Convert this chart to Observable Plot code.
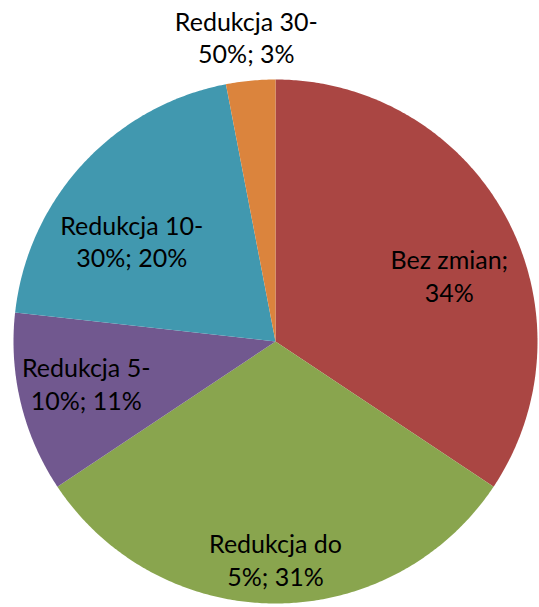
<!DOCTYPE html>
<html>
<head>
<meta charset="utf-8">
<script src="https://cdn.jsdelivr.net/npm/d3@7"></script>
<script src="https://cdn.jsdelivr.net/npm/@observablehq/plot@0.6"></script>
<style>
  html, body { margin: 0; padding: 0; background: #fff; }
  #chart { width: 539px; height: 607px; }
</style>
</head>
<body>
<div id="chart"></div>
<script>
// Data
const categories = ["Bez zmian", "Redukcja do 5%", "Redukcja 5-10%", "Redukcja 10-30%", "Redukcja 30-50%"];
const values = [34, 31, 11, 20, 3];
const labels = ["Bez zmian;\n34%", "Redukcja do\n5%; 31%", "Redukcja 5-\n10%; 11%", "Redukcja 10-\n30%; 20%", "Redukcja 30-\n50%; 3%"];
const colors = ["#AA4643", "#89A54E", "#71588F", "#4198AF", "#DB843D"];

// Label layout (radius fraction, angle shift in degrees) — mimics Excel best-fit placement
const labelRadius = [0.71, 0.83, 0.74, 0.67, 1.17];
const labelShift = [7.3, 0, 1.2, -7.7, 0];

const total = d3.sum(values);
const slices = [];
const labelRows = [];
let acc = 0;
categories.forEach((c, i) => {
  const a0 = acc / total * 2 * Math.PI;
  acc += values[i];
  const a1 = acc / total * 2 * Math.PI;
  const n = Math.max(2, Math.ceil((a1 - a0) / (Math.PI / 360)));
  slices.push({cat: c, x: 0, y: 0});
  for (let k = 0; k <= n; k++) {
    const a = a0 + (a1 - a0) * k / n;
    slices.push({cat: c, x: Math.sin(a), y: Math.cos(a)});
  }
  const am = (a0 + a1) / 2 + labelShift[i] * Math.PI / 180;
  labelRows.push({cat: c, text: labels[i], x: labelRadius[i] * Math.sin(am), y: labelRadius[i] * Math.cos(am)});
});

const cx = 275, cy = 341, r = 262;
const chart = Plot.plot({
  width: 539,
  height: 607,
  margin: 0,
  style: {background: "#fff", overflow: "visible"},
  x: {domain: [-1, 1], range: [cx - r, cx + r], axis: null},
  y: {domain: [-1, 1], range: [cy + r, cy - r], axis: null},
  color: {type: "ordinal", domain: categories, range: colors},
  marks: [
    Plot.line(slices, {x: "x", y: "y", z: "cat", fill: "cat", stroke: "none", curve: "linear-closed"}),
    Plot.text(labelRows, {
      x: "x", y: "y", text: "text",
      fontSize: 25, fontFamily: "Lato, 'Open Sans', sans-serif",
      lineHeight: 1.3, lineAnchor: "middle", textAnchor: "middle", fill: "#000"
    })
  ]
});
document.getElementById("chart").appendChild(chart);
</script>
</body>
</html>
